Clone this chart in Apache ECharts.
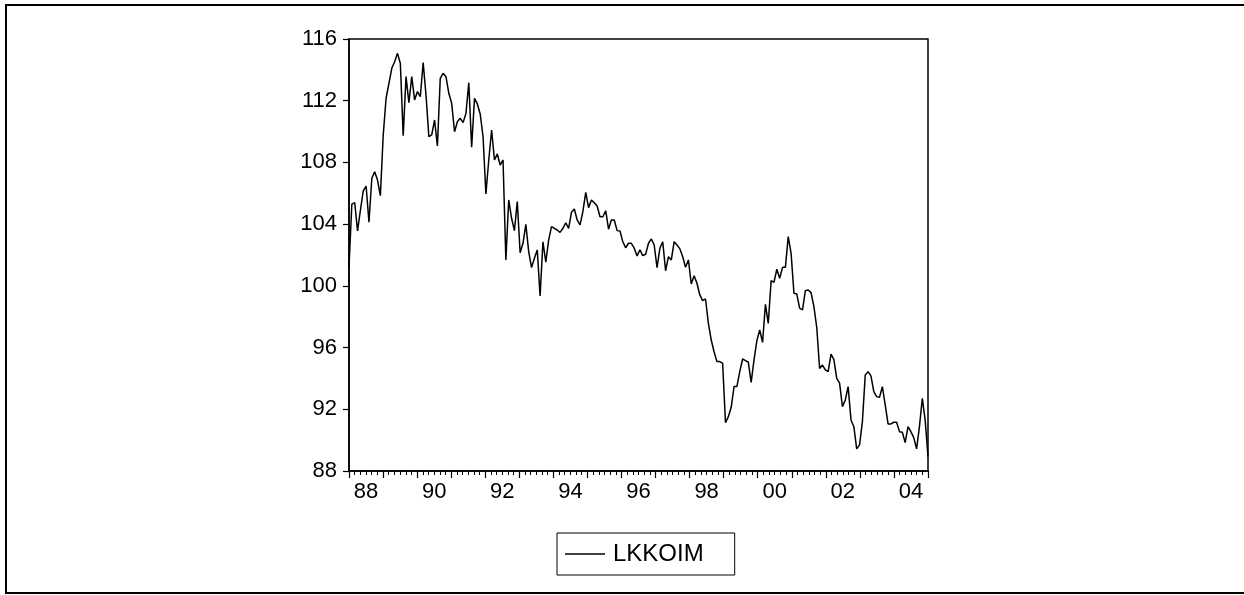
<!DOCTYPE html>
<html>
<head>
<meta charset="utf-8">
<script src="https://cdn.jsdelivr.net/npm/echarts@6/dist/echarts.min.js"></script>
<style>
html,body{margin:0;padding:0;background:#fff;}
#chart{width:1244px;height:595px;}
</style>
</head>
<body>
<div id="chart"></div>
<script>
// Year labels (band categories, one per year 1988..2004)
const yearLabels = ['88','89','90','91','92','93','94','95','96','97','98','99','00','01','02','03','04'];
const yTicks = [88, 92, 96, 100, 104, 108, 112, 116];
const seriesName = 'LKKOIM';
// Monthly values, starting 1988
const lkkoim = [
101.24,105.3,105.4,103.56,104.9,106.15,106.47,104.12,106.97,107.4,106.86,105.85,
109.78,112.16,113.13,114.1,114.53,115.07,114.43,109.73,113.56,111.87,113.56,112.05,
112.59,112.26,114.47,112.37,109.67,109.78,110.75,109.07,113.45,113.78,113.56,112.48,
111.83,109.99,110.64,110.86,110.58,111.18,113.17,108.98,112.16,111.79,111.14,109.67,
105.95,108.16,110.1,108.16,108.55,107.83,108.16,101.68,105.57,104.38,103.58,105.46,
102.15,102.76,103.99,102.22,101.18,101.79,102.33,99.34,102.86,101.53,102.97,103.84,
103.73,103.62,103.47,103.73,104.09,103.73,104.77,104.98,104.27,103.95,104.81,106.06,
105.07,105.57,105.39,105.18,104.48,104.48,104.87,103.67,104.27,104.27,103.58,103.56,
102.86,102.47,102.76,102.76,102.44,101.94,102.33,101.96,102.05,102.76,103.04,102.65,
101.18,102.44,102.86,100.98,101.89,101.68,102.86,102.65,102.4,101.89,101.2,101.68,
100.12,100.66,100.17,99.41,99.04,99.15,97.57,96.49,95.73,95.09,95.09,94.98,
91.13,91.52,92.13,93.47,93.47,94.44,95.26,95.15,95.05,93.75,95.2,96.45,
97.14,96.34,98.8,97.57,100.34,100.23,101.08,100.49,101.2,101.2,103.19,102.11,
99.52,99.47,98.55,98.44,99.69,99.73,99.56,98.65,97.3,94.64,94.87,94.55,
94.44,95.57,95.22,94.01,93.69,92.17,92.6,93.47,91.31,90.87,89.43,89.69,
91.2,94.22,94.44,94.16,93.14,92.82,92.78,93.47,92.28,91.05,91.05,91.16,
91.16,90.55,90.51,89.84,90.87,90.55,90.16,89.43,90.87,92.71,91.31,88.93
];

const chart = echarts.init(document.getElementById('chart'), null, {renderer: 'canvas'});
const font = 'Liberation Sans, Arial, sans-serif';
const N = lkkoim.length;
const monthsOnAxis = yearLabels.length * 12;

const option = {
  backgroundColor: '#fff',
  animation: false,
  textStyle: {fontFamily: font, color: '#000'},
  graphic: [{
    type: 'rect',
    shape: {x: 6, y: 5, width: 1260, height: 588},
    style: {fill: 'none', stroke: '#000', lineWidth: 2},
    silent: true, z: -1
  }],
  grid: {
    left: 349, right: 316, top: 39, bottom: 124,
    show: true, borderColor: '#000', borderWidth: 1.5, backgroundColor: 'transparent'
  },
  legend: {
    data: [{name: seriesName, icon: 'rect'}],
    left: 557, top: 533,
    itemWidth: 40, itemHeight: 1.5, itemGap: 0,
    borderColor: '#000', borderWidth: 1, borderRadius: 0,
    padding: [9, 31, 9, 8],
    textStyle: {fontFamily: font, fontSize: 24, color: '#000', padding: [0, 0, 0, 3]},
    itemStyle: {color: '#000'}
  },
  xAxis: [
    {
      type: 'value', min: 0, max: N - 1, show: false
    },
    {
      type: 'value', min: 0, max: monthsOnAxis, interval: 12, position: 'bottom', offset: 0,
      axisLine: {show: true, onZero: false, lineStyle: {color: '#000', width: 1.5}},
      axisTick: {show: true, inside: false, length: 7, lineStyle: {color: '#000', width: 1.2}},
      minorTick: {show: true, splitNumber: 6, length: 4, lineStyle: {color: '#000', width: 1}},
      axisLabel: {show: false},
      splitLine: {show: false}
    },
    {
      type: 'category', data: yearLabels, boundaryGap: true, position: 'bottom',
      axisLine: {show: false}, axisTick: {show: false},
      axisLabel: {interval: 1, fontFamily: font, fontSize: 22, color: '#000', margin: 10}
    }
  ],
  yAxis: {
    type: 'value', min: yTicks[0], max: yTicks[yTicks.length - 1], interval: 4,
    axisLine: {show: true, lineStyle: {color: '#000', width: 1.5}},
    axisTick: {show: true, inside: false, length: 6, lineStyle: {color: '#000', width: 1.2}},
    axisLabel: {fontFamily: font, fontSize: 22, color: '#000', margin: 12},
    splitLine: {show: false}
  },
  series: [{
    name: seriesName, type: 'line', xAxisIndex: 0,
    data: lkkoim.map((v, i) => [i, v]),
    symbol: 'none', showSymbol: false,
    lineStyle: {color: '#000', width: 1.5},
    itemStyle: {color: '#000'}
  }]
};
chart.setOption(option);
</script>
</body>
</html>
